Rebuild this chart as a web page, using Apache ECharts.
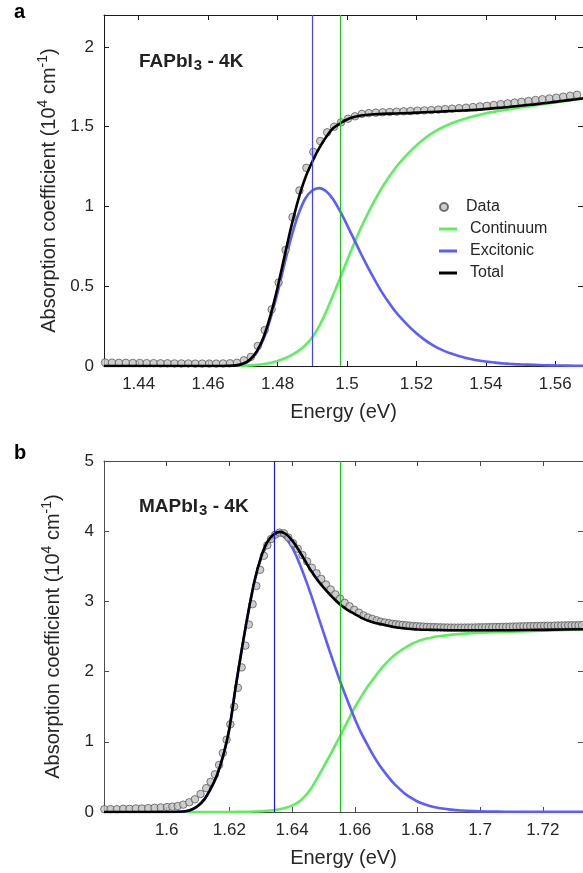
<!DOCTYPE html>
<html><head><meta charset="utf-8">
<script src="https://cdn.jsdelivr.net/npm/echarts@6/dist/echarts.min.js"></script>
<style>html,body{margin:0;padding:0;background:#fff}#c{width:583px;height:873px}</style>
</head><body><div id="c"></div>
<script>
// ---------- Panel a : FAPbI3 - 4K ----------
const xTicksA = [1.44, 1.46, 1.48, 1.50, 1.52, 1.54, 1.56];
const yTicksA = [0, 0.5, 1, 1.5, 2];
const excitonLineA = 1.4900;
const gapLineA = 1.4982;
const dataA = [[1.4303,0.022],[1.4323,0.021],[1.4343,0.020],[1.4363,0.020],[1.4383,0.019],[1.4403,0.019],[1.4423,0.018],[1.4443,0.018],[1.4463,0.017],[1.4483,0.017],
[1.4503,0.016],[1.4523,0.016],[1.4543,0.016],[1.4563,0.015],[1.4583,0.015],[1.4603,0.015],[1.4623,0.015],[1.4643,0.016],[1.4663,0.017],[1.4683,0.020],
[1.4703,0.036],[1.4723,0.057],[1.4743,0.126],[1.4763,0.225],[1.4783,0.355],[1.4803,0.523],[1.4823,0.727],[1.4843,0.933],[1.4863,1.100],[1.4883,1.242],
[1.4903,1.342],[1.4923,1.410],[1.4943,1.465],[1.4963,1.500],[1.4983,1.527],[1.5003,1.550],[1.5023,1.565],[1.5043,1.580],[1.5063,1.585],[1.5083,1.588],
[1.5103,1.590],[1.5123,1.592],[1.5143,1.594],[1.5163,1.596],[1.5183,1.598],[1.5203,1.600],[1.5223,1.602],[1.5243,1.604],[1.5263,1.607],[1.5283,1.610],
[1.5303,1.613],[1.5323,1.616],[1.5343,1.619],[1.5363,1.623],[1.5383,1.627],[1.5403,1.631],[1.5423,1.636],[1.5443,1.641],[1.5463,1.646],[1.5483,1.651],
[1.5503,1.656],[1.5523,1.661],[1.5543,1.667],[1.5563,1.672],[1.5583,1.677],[1.5603,1.682],[1.5623,1.688],[1.5643,1.694],[1.5663,1.700]];
const continuumA = [[1.430,0],[1.450,0],[1.466,0],[1.468,0.001],[1.470,0.002],[1.472,0.004],[1.474,0.007],[1.476,0.012],[1.478,0.020],[1.480,0.032],
[1.482,0.047],[1.484,0.068],[1.486,0.095],[1.488,0.13],[1.490,0.18],[1.492,0.25],[1.494,0.34],[1.496,0.445],[1.498,0.55],[1.500,0.66],
[1.502,0.765],[1.504,0.865],[1.506,0.955],[1.508,1.038],[1.510,1.115],[1.512,1.182],[1.514,1.243],[1.516,1.294],[1.518,1.34],[1.520,1.383],
[1.522,1.42],[1.524,1.452],[1.526,1.479],[1.528,1.501],[1.530,1.52],[1.532,1.536],[1.534,1.55],[1.536,1.562],[1.538,1.573],[1.540,1.584],
[1.542,1.592],[1.544,1.60],[1.546,1.607],[1.548,1.614],[1.550,1.621],[1.552,1.627],[1.554,1.633],[1.556,1.64],[1.558,1.646],[1.560,1.652],
[1.562,1.658],[1.564,1.664],[1.566,1.67],[1.568,1.676],[1.570,1.682]];
const excitonicA = [[1.430,0],[1.450,0],[1.464,0],[1.466,0.001],[1.468,0.003],[1.470,0.012],[1.472,0.035],[1.474,0.085],[1.476,0.17],[1.478,0.30],
[1.480,0.46],[1.482,0.64],[1.484,0.81],[1.486,0.95],[1.488,1.05],[1.490,1.10],[1.492,1.115],[1.494,1.095],[1.496,1.045],[1.498,0.97],
[1.500,0.885],[1.502,0.795],[1.504,0.705],[1.506,0.62],[1.508,0.54],[1.510,0.465],[1.512,0.40],[1.514,0.34],[1.516,0.29],[1.518,0.245],
[1.520,0.205],[1.522,0.17],[1.524,0.14],[1.526,0.115],[1.528,0.095],[1.530,0.078],[1.532,0.064],[1.534,0.052],[1.536,0.042],[1.538,0.034],
[1.540,0.028],[1.542,0.023],[1.544,0.018],[1.546,0.015],[1.548,0.012],[1.550,0.010],[1.554,0.007],[1.558,0.004],[1.562,0.003],[1.566,0.002],[1.570,0.002]];
const totalA = [[1.430,0],[1.450,0],[1.464,0],[1.466,0.001],[1.468,0.004],[1.470,0.014],[1.472,0.039],[1.474,0.092],[1.476,0.182],[1.478,0.32],
[1.480,0.492],[1.482,0.687],[1.484,0.878],[1.486,1.045],[1.488,1.18],[1.490,1.28],[1.492,1.365],[1.494,1.435],[1.496,1.49],[1.498,1.52],
[1.500,1.545],[1.502,1.56],[1.504,1.57],[1.506,1.575],[1.508,1.578],[1.510,1.58],[1.514,1.583],[1.518,1.585],[1.522,1.59],[1.526,1.594],
[1.530,1.598],[1.534,1.602],[1.538,1.607],[1.542,1.615],[1.546,1.622],[1.550,1.631],[1.554,1.64],[1.558,1.65],[1.562,1.661],[1.566,1.672],[1.570,1.684]];

// ---------- Panel b : MAPbI3 - 4K ----------
const xTicksB = [1.60, 1.62, 1.64, 1.66, 1.68, 1.70, 1.72];
const yTicksB = [0, 1, 2, 3, 4, 5];
const excitonLineB = 1.6343;
const gapLineB = 1.6553;
const dataB = [[1.5801,0.04],[1.5821,0.04],[1.5841,0.04],[1.5861,0.045],[1.5881,0.045],[1.5901,0.05],[1.5921,0.05],[1.5941,0.055],[1.5961,0.06],[1.5981,0.065],
[1.6001,0.07],[1.6018,0.076],[1.6035,0.085],[1.6053,0.105],[1.6072,0.138],[1.6090,0.181],[1.6108,0.257],[1.6126,0.34],[1.6140,0.43],[1.6154,0.537],
[1.6167,0.67],[1.6179,0.84],[1.6191,1.03],[1.6203,1.25],[1.6215,1.50],[1.6227,1.77],[1.6239,2.06],[1.6251,2.37],[1.6262,2.67],[1.6274,2.96],
[1.6286,3.22],[1.6298,3.45],[1.6310,3.65],[1.6321,3.80],[1.6333,3.89],[1.6346,3.95],[1.6360,3.98],[1.6374,3.97],[1.6388,3.91],[1.6403,3.83],
[1.6418,3.75],[1.6433,3.66],[1.6448,3.57],[1.6463,3.48],[1.6478,3.40],[1.6493,3.32],[1.6508,3.24],[1.6523,3.17],[1.6538,3.10],[1.6553,3.04],
[1.6568,2.98],[1.6583,2.93],[1.6598,2.88],[1.6613,2.84],[1.6628,2.80],[1.6642,2.77],[1.6656,2.75],[1.6670,2.73],[1.6683,2.71],[1.6696,2.70],
[1.6709,2.69],[1.6720,2.68],[1.6731,2.675],[1.6742,2.67],[1.6753,2.665],[1.6764,2.66],[1.6775,2.655],[1.6786,2.65],[1.6797,2.647],[1.6808,2.644],
[1.6819,2.641],[1.6830,2.638],[1.6841,2.636],[1.6852,2.634],[1.6863,2.632],[1.6874,2.63],[1.6885,2.629],[1.6896,2.628],[1.6907,2.627],[1.6918,2.627],
[1.6929,2.627],[1.6940,2.627],[1.6951,2.627],[1.6962,2.628],[1.6973,2.628],[1.6984,2.629],[1.6995,2.63],[1.7006,2.631],[1.7017,2.632],[1.7028,2.633],
[1.7039,2.634],[1.7050,2.635],[1.7061,2.636],[1.7072,2.637],[1.7083,2.638],[1.7094,2.64],[1.7105,2.641],[1.7116,2.642],[1.7127,2.644],[1.7138,2.645],
[1.7149,2.646],[1.7160,2.648],[1.7171,2.649],[1.7182,2.65],[1.7193,2.651],[1.7204,2.652],[1.7215,2.653],[1.7226,2.654],[1.7237,2.655],[1.7248,2.656],
[1.7259,2.657],[1.7270,2.658],[1.7281,2.659],[1.7292,2.66],[1.7303,2.66],[1.7314,2.661],[1.7325,2.662]];
const continuumB = [[1.580,0],[1.618,0],[1.620,0.001],[1.624,0.003],[1.628,0.008],[1.632,0.018],[1.634,0.026],[1.636,0.04],[1.638,0.06],[1.640,0.09],
[1.642,0.14],[1.644,0.22],[1.646,0.33],[1.648,0.48],[1.650,0.64],[1.652,0.80],[1.654,0.97],[1.656,1.14],[1.658,1.32],[1.660,1.49],
[1.662,1.64],[1.664,1.78],[1.666,1.90],[1.668,2.02],[1.670,2.12],[1.672,2.21],[1.674,2.28],[1.676,2.34],[1.678,2.39],[1.680,2.43],
[1.682,2.46],[1.684,2.48],[1.686,2.50],[1.688,2.51],[1.692,2.53],[1.696,2.545],[1.700,2.555],[1.710,2.57],[1.720,2.583],[1.730,2.596],[1.736,2.603]];
const excitonicB = [[1.580,0],[1.600,0],[1.604,0.003],[1.606,0.01],[1.608,0.035],[1.610,0.09],[1.612,0.18],[1.614,0.33],[1.616,0.52],[1.618,0.80],
[1.620,1.19],[1.622,1.78],[1.624,2.33],[1.626,2.83],[1.628,3.28],[1.630,3.60],[1.632,3.80],[1.634,3.91],[1.636,3.95],[1.638,3.90],
[1.640,3.77],[1.642,3.58],[1.644,3.35],[1.646,3.10],[1.648,2.83],[1.650,2.56],[1.652,2.29],[1.654,2.03],[1.656,1.78],[1.658,1.55],
[1.660,1.33],[1.662,1.13],[1.664,0.96],[1.666,0.80],[1.668,0.66],[1.670,0.54],[1.672,0.43],[1.674,0.34],[1.676,0.26],[1.678,0.20],
[1.680,0.15],[1.682,0.115],[1.684,0.085],[1.686,0.065],[1.688,0.05],[1.690,0.038],[1.694,0.022],[1.698,0.013],[1.702,0.008],[1.706,0.005],
[1.710,0.003],[1.720,0.002],[1.736,0.001]];
const totalB = [[1.580,0],[1.600,0],[1.604,0.003],[1.606,0.01],[1.608,0.035],[1.610,0.09],[1.612,0.18],[1.614,0.33],[1.616,0.52],[1.618,0.80],
[1.620,1.19],[1.622,1.78],[1.624,2.33],[1.626,2.84],[1.628,3.29],[1.630,3.62],[1.632,3.84],[1.634,3.95],[1.636,3.99],[1.638,3.96],
[1.640,3.87],[1.642,3.74],[1.644,3.59],[1.646,3.44],[1.648,3.31],[1.650,3.20],[1.652,3.10],[1.654,3.01],[1.656,2.93],[1.658,2.87],
[1.660,2.82],[1.662,2.77],[1.664,2.73],[1.666,2.70],[1.668,2.68],[1.670,2.66],[1.672,2.64],[1.674,2.625],[1.676,2.615],[1.678,2.607],
[1.680,2.60],[1.684,2.595],[1.690,2.59],[1.700,2.588],[1.710,2.59],[1.720,2.595],[1.736,2.605]];

// ---------- styling ----------
const FONT = "'Liberation Sans', Arial, Helvetica, sans-serif";
const TXT = '#262626';
const GREEN = '#5cf05c', BLUE = '#5c5cff', BLACK = '#000000';
const fmt = v => String(parseFloat(Number(v).toFixed(2)));

function xAxes(gridIndex, min, max, ticks, axisColor) {
  return [{
    type: 'value', gridIndex, min, max, position: 'bottom',
    name: 'Energy (eV)', nameLocation: 'middle', nameGap: 36,
    nameTextStyle: { fontFamily: FONT, fontSize: 20, color: TXT },
    axisLine: { show: true, lineStyle: { color: axisColor, width: 1 } },
    axisTick: { show: true, inside: true, length: 5, customValues: ticks, lineStyle: { color: axisColor } },
    axisLabel: { show: true, customValues: ticks, formatter: fmt, fontFamily: FONT, fontSize: 17, color: TXT, margin: 10 },
    splitLine: { show: false }
  }, {
    type: 'value', gridIndex, min, max, position: 'top',
    axisLine: { show: true, onZero: false, lineStyle: { color: axisColor, width: 1 } },
    axisTick: { show: true, inside: true, length: 5, customValues: ticks, lineStyle: { color: axisColor } },
    axisLabel: { show: false }, splitLine: { show: false }
  }];
}
function yAxes(gridIndex, min, max, ticks, axisColor) {
  return [{
    type: 'value', gridIndex, min, max, position: 'left',
    name: '{t|Absorption coefficient (10}{sup|4}{t| cm}{sup|-1}{t|)}',
    nameLocation: 'middle', nameGap: 41, nameRotate: 90,
    nameTextStyle: { fontFamily: FONT, fontSize: 20, color: TXT,
      rich: { t: { fontFamily: FONT, fontSize: 20, color: TXT, verticalAlign: 'bottom', lineHeight: 23 },
              sup: { fontFamily: FONT, fontSize: 14, color: TXT, verticalAlign: 'top', lineHeight: 23, padding: [0,0,9,0] } } },
    axisLine: { show: true, lineStyle: { color: axisColor, width: 1 } },
    axisTick: { show: true, inside: true, length: 5, customValues: ticks, lineStyle: { color: axisColor } },
    axisLabel: { show: true, customValues: ticks, formatter: fmt, fontFamily: FONT, fontSize: 17, color: TXT, margin: 10 },
    splitLine: { show: false }
  }, {
    type: 'value', gridIndex, min, max, position: 'right',
    axisLine: { show: true, onZero: false, lineStyle: { color: axisColor, width: 1 } },
    axisTick: { show: true, inside: true, length: 5, customValues: ticks, lineStyle: { color: axisColor } },
    axisLabel: { show: false }, splitLine: { show: false }
  }];
}
function vline(xv, color) {
  return { silent: true, precision: 5, symbol: ['none', 'none'], label: { show: false },
    lineStyle: { color, width: 1.2, type: 'solid' }, emphasis: { disabled: true },
    data: [{ xAxis: xv }] };
}
function curve(name, data, color, xi, yi, extra) {
  return Object.assign({ name, type: 'line', data, xAxisIndex: xi, yAxisIndex: yi,
    symbol: 'none', showSymbol: false, smooth: 0.3, clip: true,
    lineStyle: { color, width: 2.6 }, itemStyle: { color }, animation: false, z: 3 }, extra || {});
}
function scatter(name, data, xi, yi) {
  return { name, type: 'scatter', data, xAxisIndex: xi, yAxisIndex: yi, symbol: 'circle', symbolSize: 7.5,
    itemStyle: { color: '#c2c2c2', borderColor: '#505050', borderWidth: 0.9 }, clip: true, animation: false, z: 3 };
}
const legendText = { fontFamily: FONT, fontSize: 16, color: TXT, lineHeight: 16, padding: [0, 0, 0, 8] };

const option = {
  backgroundColor: '#ffffff',
  animation: false,
  grid: [
    { left: 104, top: 15, right: -1, height: 351, containLabel: false },
    { left: 104, top: 461, right: -1, height: 351, containLabel: false }
  ],
  xAxis: [...xAxes(0, 1.430, 1.568, xTicksA, '#1a1a1a'), ...xAxes(1, 1.580, 1.7328, xTicksB, '#4d4d4d')],
  yAxis: [...yAxes(0, 0, 2.2, yTicksA, '#1a1a1a'), ...yAxes(1, 0, 5, yTicksB, '#4d4d4d')],
  legend: [
    { data: [{ name: 'Data', icon: 'circle' }], orient: 'vertical', left: 434, top: 194, itemWidth: 18, itemHeight: 8, itemGap: 6,
      textStyle: legendText },
    { data: [{ name: 'Continuum', icon: 'rect', itemStyle: { color: GREEN } },
             { name: 'Excitonic', icon: 'rect', itemStyle: { color: BLUE } },
             { name: 'Total', icon: 'rect', itemStyle: { color: BLACK } }],
      orient: 'vertical', left: 434, top: 216, itemWidth: 18, itemHeight: 3, itemGap: 6,
      textStyle: legendText }
  ],
  graphic: [
    { type: 'text', left: 14, top: 2, style: { text: 'a', font: "bold 20px " + FONT, fill: '#000' } },
    { type: 'text', left: 14, top: 443, style: { text: 'b', font: "bold 20px " + FONT, fill: '#000' } },
    { type: 'text', left: 139, top: 43, style: { text: '{m|FAPbI}{s|3}{m| - 4K}', fill: '#222',
        rich: { m: { font: "bold 19px " + FONT, fill: '#222', verticalAlign: 'top', lineHeight: 21 },
                s: { font: "bold 15px " + FONT, fill: '#222', verticalAlign: 'bottom', lineHeight: 15, padding: [15, 0, 0, 1] } } } },
    { type: 'text', left: 139, top: 488, style: { text: '{m|MAPbI}{s|3}{m| - 4K}', fill: '#222',
        rich: { m: { font: "bold 19px " + FONT, fill: '#222', verticalAlign: 'top', lineHeight: 21 },
                s: { font: "bold 15px " + FONT, fill: '#222', verticalAlign: 'bottom', lineHeight: 15, padding: [15, 0, 0, 1] } } } }
  ],
  series: [
    // panel a
    curve('Continuum', continuumA, GREEN, 0, 0, { markLine: vline(gapLineA, '#22c422') }),
    curve('Excitonic', excitonicA, BLUE, 0, 0, { markLine: vline(excitonLineA, '#4646ee') }),
    scatter('Data', dataA, 0, 0),
    curve('Total', totalA, BLACK, 0, 0, { z: 4 }),
    // panel b
    curve('Continuum', continuumB, GREEN, 2, 2, { markLine: vline(gapLineB, '#12c812') }),
    curve('Excitonic', excitonicB, BLUE, 2, 2, { markLine: vline(excitonLineB, '#1a1ad0') }),
    scatter('Data', dataB, 2, 2),
    curve('Total', totalB, BLACK, 2, 2, { z: 4 })
  ]
};
const chart = echarts.init(document.getElementById('c'), null, { renderer: 'canvas' });
chart.setOption(option);
</script>
</body></html>
